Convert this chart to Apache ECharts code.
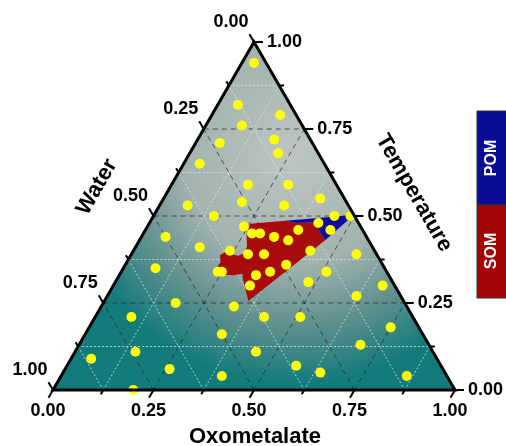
<!DOCTYPE html>
<html>
<head>
<meta charset="utf-8">
<script src="https://cdn.jsdelivr.net/npm/echarts@6/dist/echarts.min.js"></script>
<style>
html, body { margin: 0; padding: 0; background: #fff; }
#main { width: 506px; height: 446px; }
</style>
</head>
<body>
<div id="main"></div>
<script>
// ternary data: Oxometalate + Water + Temperature = 1 (water is the remainder)
var oxometalate = [0.03,0.05,0.17,0.09,0.06,0.19,0.22,0.04,0.19,0.29,0.39,0.20,0.31,0.07,0.15,0.45,0.49,0.42,0.24,0.46,
  0.38,0.06,0.27,0.29,0.33,0.37,0.16,0.24,0.29,0.33,0.44,0.56,0.08,0.40,0.24,0.25,0.34,0.37,0.51,0.34,
  0.48,0.67,0.62,0.18,0.33,0.42,0.51,0.09,0.75,0.34,0.70,0.15,0.05,0.45,0.26,0.57,0.64,0.86,0.40,0.20];
var temperature = [0.94,0.82,0.79,0.76,0.71,0.72,0.68,0.65,0.59,0.59,0.55,0.54,0.53,0.53,0.50,0.50,0.50,0.48,0.47,0.46,
  0.46,0.44,0.45,0.45,0.44,0.43,0.41,0.40,0.39,0.39,0.40,0.39,0.35,0.36,0.34,0.34,0.33,0.34,0.34,0.30,
  0.31,0.30,0.27,0.25,0.24,0.21,0.21,0.21,0.18,0.16,0.13,0.11,0.09,0.11,0.06,0.07,0.05,0.04,0.04,0.00];

// SOM / POM regions, boundary vertices as [oxometalate, temperature]
var somRegion = [[0.251,0.478],[0.334,0.486],[0.367,0.480],[0.398,0.481],[0.412,0.480],[0.422,0.468],[0.440,0.451],
  [0.462,0.430],[0.358,0.256],[0.310,0.323],[0.305,0.334],[0.284,0.330],[0.254,0.332],[0.237,0.336],[0.231,0.352],
  [0.233,0.368],[0.222,0.387],[0.230,0.396],[0.229,0.409],[0.249,0.399],[0.249,0.390],[0.268,0.386],[0.280,0.395],
  [0.276,0.413],[0.257,0.449]];
var pomRegion = [[0.334,0.486],[0.497,0.503],[0.462,0.430],[0.440,0.451],[0.422,0.468],[0.412,0.480],[0.398,0.481],[0.367,0.480]];

var majorTicks = [0, 0.25, 0.5, 0.75, 1];
var tickLabels = ['0.00', '0.25', '0.50', '0.75', '1.00'];
var minorTicks = [0.125, 0.375, 0.625, 0.875];
var legendNames = ['POM', 'SOM'];
var legendColors = ['#0b0b93', '#a30404'];

var H = Math.sqrt(3) / 2;
function toXY(oxo, t) { return [oxo + t / 2, t * H]; }

var labelFont = 'bold 18px "Liberation Sans", Arial, sans-serif';
var titleFont = 'bold 22px "Liberation Sans", Arial, sans-serif';

var chartDom = document.getElementById('main');
var myChart = echarts.init(chartDom);
var option;

function regionSeries(points, color) {
  return {
    type: 'custom',
    z: 3,
    data: [[0, 0]],
    renderItem: function (params, api) {
      return {
        type: 'polygon',
        shape: { points: points.map(function (p) { return api.coord(toXY(p[0], p[1])); }) },
        style: { fill: color }
      };
    }
  };
}

option = {
  animation: false,
  grid: { left: 53, right: 51, top: 42, bottom: 56 },
  xAxis: { type: 'value', min: 0, max: 1, show: false },
  yAxis: { type: 'value', min: 0, max: H, show: false },
  series: [
    {
      // triangle background
      type: 'custom',
      z: 1,
      data: [[0, 0]],
      renderItem: function (params, api) {
        return {
          type: 'polygon',
          shape: { points: [api.coord([0, 0]), api.coord([1, 0]), api.coord([0.5, H])] },
          style: {
            fill: new echarts.graphic.RadialGradient(0.6, 0.32, 0.66, [
              { offset: 0, color: '#bec5c1' },
              { offset: 0.48, color: '#a2b3b0' },
              { offset: 0.74, color: '#62918f' },
              { offset: 1, color: '#147b7c' }
            ])
          }
        };
      }
    },
    {
      // grid lines in three directions
      type: 'custom',
      z: 2,
      data: majorTicks.slice(1, 4).map(function (v) { return [v, 1]; })
        .concat(minorTicks.map(function (v) { return [v, 0]; })),
      renderItem: function (params, api) {
        var v = api.value(0);
        var major = api.value(1) === 1;
        var style = major
          ? { stroke: 'rgba(40,40,40,0.75)', lineWidth: 1, lineDash: [5, 4] }
          : { stroke: 'rgba(225,225,225,0.8)', lineWidth: 1, lineDash: [2, 2] };
        var segs = [
          [toXY(0, v), toXY(1 - v, v)],       // constant temperature
          [toXY(v, 0), toXY(v, 1 - v)],       // constant oxometalate
          [toXY(1 - v, 0), toXY(0, 1 - v)]    // constant water
        ];
        return {
          type: 'group',
          children: segs.map(function (s) {
            var a = api.coord(s[0]), b = api.coord(s[1]);
            return { type: 'line', shape: { x1: a[0], y1: a[1], x2: b[0], y2: b[1] }, style: style };
          })
        };
      }
    },
    regionSeries(somRegion, '#a70b0b'),
    regionSeries(pomRegion, '#0b0ba0'),
    {
      type: 'scatter',
      z: 4,
      symbolSize: 10,
      itemStyle: { color: '#ffff00', opacity: 1 },
      data: oxometalate.map(function (o, i) { return toXY(o, temperature[i]); })
    },
    {
      // frame, ticks and tick labels
      type: 'custom',
      z: 5,
      data: [[0, 0]],
      renderItem: function (params, api) {
        var ch = [];
        var pts = [api.coord([0, 0]), api.coord([1, 0]), api.coord([0.5, H])];
        ch.push({ type: 'polygon', shape: { points: pts }, style: { fill: null, stroke: '#000', lineWidth: 3, lineJoin: 'miter' } });
        function tick(p, dx, dy, len) {
          ch.push({ type: 'line', shape: { x1: p[0], y1: p[1], x2: p[0] + dx * len, y2: p[1] + dy * len },
            style: { stroke: '#000', lineWidth: 2 } });
        }
        function addTicks(values, len) {
          values.forEach(function (v) {
            tick(api.coord(toXY(v, 0)), -0.5, 0.866, len);        // Oxometalate (bottom)
            tick(api.coord(toXY(1 - v, v)), 1, 0, len);           // Temperature (right)
            tick(api.coord(toXY(0, 1 - v)), -0.5, -0.866, len);   // Water (left)
          });
        }
        addTicks(majorTicks, 9);
        addTicks(minorTicks, 5);
        majorTicks.forEach(function (v, i) {
          var b = api.coord(toXY(v, 0));
          ch.push({ type: 'text', x: b[0] - 5, y: b[1] + 21,
            style: { text: tickLabels[i], font: labelFont, fill: '#000', align: 'center', verticalAlign: 'middle' } });
          var r = api.coord(toXY(1 - v, v));
          ch.push({ type: 'text', x: r[0] + 13, y: r[1],
            style: { text: tickLabels[i], font: labelFont, fill: '#000', align: 'left', verticalAlign: 'middle' } });
          var l = api.coord(toXY(0, 1 - v));
          ch.push({ type: 'text', x: l[0] - 23, y: l[1] - 20,
            style: { text: tickLabels[i], font: labelFont, fill: '#000', align: 'center', verticalAlign: 'middle' } });
        });
        return { type: 'group', children: ch };
      }
    }
  ],
  graphic: [
    { type: 'text', x: 255, y: 437, style: { text: 'Oxometalate', font: titleFont, fill: '#000', align: 'center', verticalAlign: 'middle' } },
    { type: 'text', x: 97, y: 187, rotation: Math.PI / 3, style: { text: 'Water', font: titleFont, fill: '#000', align: 'center', verticalAlign: 'middle' } },
    { type: 'text', x: 414, y: 193, rotation: -Math.PI / 3, style: { text: 'Temperature', font: titleFont, fill: '#000', align: 'center', verticalAlign: 'middle' } },
    { type: 'rect', shape: { x: 477, y: 111, width: 30, height: 94 }, style: { fill: legendColors[0], stroke: '#333', lineWidth: 1 } },
    { type: 'rect', shape: { x: 477, y: 205, width: 30, height: 93 }, style: { fill: legendColors[1], stroke: '#333', lineWidth: 1 } },
    { type: 'text', x: 492, y: 158, rotation: Math.PI / 2, style: { text: legendNames[0], font: 'bold 16px "Liberation Sans", Arial, sans-serif', fill: '#fff', align: 'center', verticalAlign: 'middle' } },
    { type: 'text', x: 492, y: 251, rotation: Math.PI / 2, style: { text: legendNames[1], font: 'bold 16px "Liberation Sans", Arial, sans-serif', fill: '#fff', align: 'center', verticalAlign: 'middle' } }
  ]
};

option && myChart.setOption(option);
</script>
</body>
</html>
